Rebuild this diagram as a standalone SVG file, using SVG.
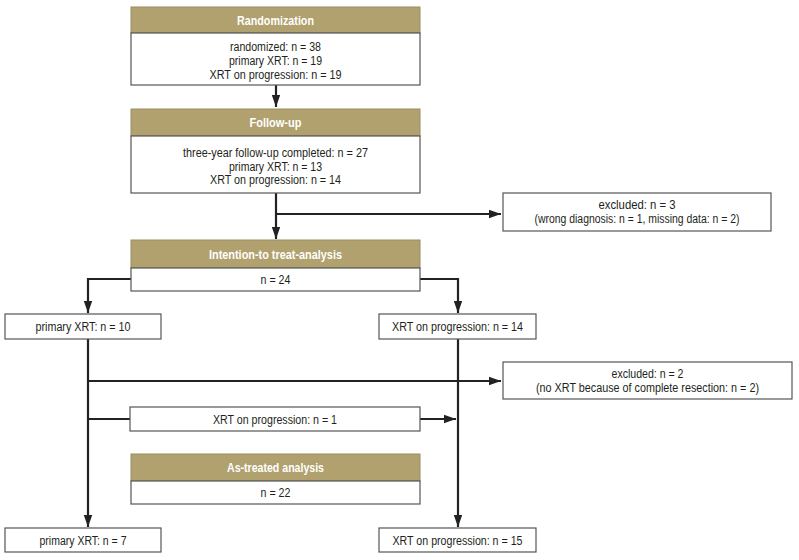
<svg xmlns="http://www.w3.org/2000/svg" width="799" height="560" viewBox="0 0 799 560">
<style>
.hd{fill:#b0a16e;stroke:#9a8d62;stroke-width:1}
.bx{fill:#fff;stroke:#555;stroke-width:1.2}
.ht{font-family:"Liberation Sans",Arial,sans-serif;font-size:12.5px;font-weight:bold;fill:#fff;text-anchor:middle}
.t{font-family:"Liberation Sans",Arial,sans-serif;font-size:12px;fill:#231f20;text-anchor:middle}
.c{fill:none;stroke:#222;stroke-width:2.2}
</style>
<defs>
<marker id="ah" viewBox="0 0 10 10" refX="10" refY="5" markerWidth="5.5" markerHeight="5.5" orient="auto" markerUnits="strokeWidth">
<path d="M0,1.5 L10,5 L0,8.5 z" fill="#222"/>
</marker>
</defs>
<rect width="799" height="560" fill="#fff"/>
<g id="connectors">
<path class="c" d="M276,85 V107" marker-end="url(#ah)"/>
<path class="c" d="M276,193 V239" marker-end="url(#ah)"/>
<path class="c" d="M276,214 H501" marker-end="url(#ah)"/>
<path class="c" d="M131,279 H88 V313" marker-end="url(#ah)"/>
<path class="c" d="M420,279 H458 V313" marker-end="url(#ah)"/>
<path class="c" d="M88,339 V527" marker-end="url(#ah)"/>
<path class="c" d="M458,339 V527" marker-end="url(#ah)"/>
<path class="c" d="M88,381 H501" marker-end="url(#ah)"/>
<path class="c" d="M88,419 H130"/>
<path class="c" d="M420,419 H456" marker-end="url(#ah)"/>
</g>
<g id="randomization">
<rect class="hd" x="131" y="7" width="289" height="26"/>
<text class="ht" x="275.5" y="24.5" textLength="77" lengthAdjust="spacingAndGlyphs">Randomization</text>
<rect class="bx" x="131" y="33" width="289" height="52"/>
<text class="t" x="275.5" y="51" textLength="91" lengthAdjust="spacingAndGlyphs">randomized: n = 38</text>
<text class="t" x="275.5" y="65" textLength="93" lengthAdjust="spacingAndGlyphs">primary XRT: n = 19</text>
<text class="t" x="275.5" y="79" textLength="132" lengthAdjust="spacingAndGlyphs">XRT on progression: n = 19</text>
</g>
<g id="followup">
<rect class="hd" x="131" y="109" width="289" height="27"/>
<text class="ht" x="275.5" y="127" textLength="52" lengthAdjust="spacingAndGlyphs">Follow-up</text>
<rect class="bx" x="131" y="136" width="289" height="57"/>
<text class="t" x="275.5" y="157" textLength="185" lengthAdjust="spacingAndGlyphs">three-year follow-up completed: n = 27</text>
<text class="t" x="275.5" y="170.5" textLength="93" lengthAdjust="spacingAndGlyphs">primary XRT: n = 13</text>
<text class="t" x="275.5" y="184" textLength="131" lengthAdjust="spacingAndGlyphs">XRT on progression: n = 14</text>
</g>
<g id="excluded1">
<rect class="bx" x="503" y="193" width="268" height="38"/>
<text class="t" x="637" y="209" textLength="77" lengthAdjust="spacingAndGlyphs">excluded: n = 3</text>
<text class="t" x="637" y="223" textLength="205" lengthAdjust="spacingAndGlyphs">(wrong diagnosis: n = 1, missing data: n = 2)</text>
</g>
<g id="itt">
<rect class="hd" x="131" y="240" width="289" height="28"/>
<text class="ht" x="275.5" y="258.5" textLength="133" lengthAdjust="spacingAndGlyphs">Intention-to treat-analysis</text>
<rect class="bx" x="131" y="268" width="289" height="23"/>
<text class="t" x="275.5" y="284" textLength="30" lengthAdjust="spacingAndGlyphs">n = 24</text>
</g>
<g id="primary10">
<rect class="bx" x="5" y="314" width="156" height="25"/>
<text class="t" x="83" y="330.5" textLength="95" lengthAdjust="spacingAndGlyphs">primary XRT: n = 10</text>
</g>
<g id="prog14">
<rect class="bx" x="379" y="314" width="157" height="25"/>
<text class="t" x="457.5" y="330.5" textLength="131" lengthAdjust="spacingAndGlyphs">XRT on progression: n = 14</text>
</g>
<g id="excluded2">
<rect class="bx" x="503" y="362" width="289" height="37"/>
<text class="t" x="647.5" y="378" textLength="72" lengthAdjust="spacingAndGlyphs">excluded: n = 2</text>
<text class="t" x="647.5" y="392" textLength="223" lengthAdjust="spacingAndGlyphs">(no XRT because of complete resection: n = 2)</text>
</g>
<g id="prog1">
<rect class="bx" x="130" y="407" width="290" height="24"/>
<text class="t" x="275" y="423.5" textLength="124" lengthAdjust="spacingAndGlyphs">XRT on progression: n = 1</text>
</g>
<g id="astreated">
<rect class="hd" x="131" y="454" width="289" height="27"/>
<text class="ht" x="275.5" y="472" textLength="97" lengthAdjust="spacingAndGlyphs">As-treated analysis</text>
<rect class="bx" x="131" y="481" width="289" height="23"/>
<text class="t" x="275.5" y="497" textLength="30" lengthAdjust="spacingAndGlyphs">n = 22</text>
</g>
<g id="primary7">
<rect class="bx" x="5" y="528" width="156" height="24"/>
<text class="t" x="83" y="544.5" textLength="87" lengthAdjust="spacingAndGlyphs">primary XRT: n = 7</text>
</g>
<g id="prog15">
<rect class="bx" x="379" y="528" width="157" height="24"/>
<text class="t" x="457.5" y="544.5" textLength="130" lengthAdjust="spacingAndGlyphs">XRT on progression: n = 15</text>
</g>
</svg>
